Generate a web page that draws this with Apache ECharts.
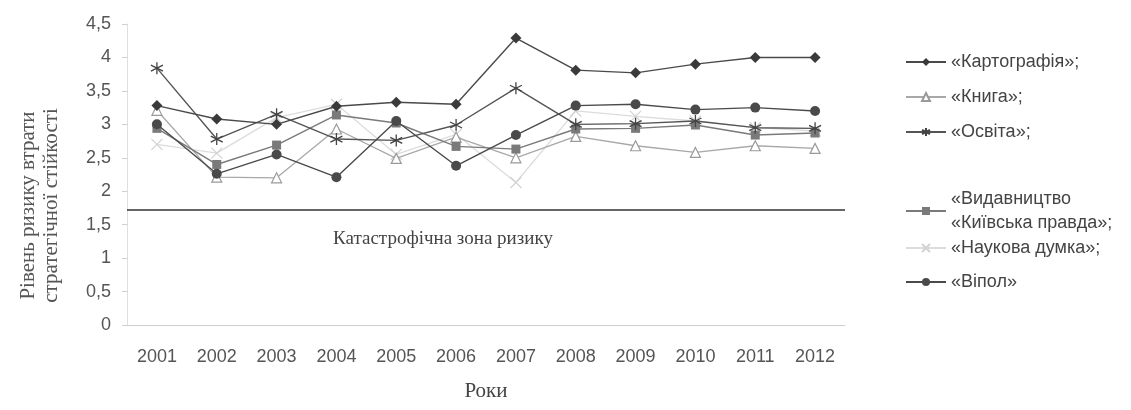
<!DOCTYPE html>
<html>
<head>
<meta charset="utf-8">
<script src="https://cdn.jsdelivr.net/npm/echarts@6/dist/echarts.min.js"></script>
<style>
html,body{margin:0;padding:0;background:#fff;}
#chart{width:1131px;height:410px;}
</style>
</head>
<body>
<div id="chart"></div>
<script>
const years = ['2001','2002','2003','2004','2005','2006','2007','2008','2009','2010','2011','2012'];
const yTicks = [0, 0.5, 1, 1.5, 2, 2.5, 3, 3.5, 4, 4.5];
const kartohrafiia = [3.28, 3.08, 3.00, 3.27, 3.33, 3.30, 4.29, 3.81, 3.77, 3.90, 4.00, 4.00];
const knyha        = [3.21, 2.21, 2.20, 2.93, 2.49, 2.81, 2.50, 2.82, 2.68, 2.58, 2.68, 2.64];
const osvita       = [3.84, 2.78, 3.15, 2.78, 2.76, 2.99, 3.54, 3.00, 3.01, 3.05, 2.95, 2.94];
const kyivPravda   = [2.94, 2.40, 2.69, 3.14, 3.02, 2.67, 2.63, 2.93, 2.94, 2.99, 2.84, 2.87];
const naukovaDumka = [2.70, 2.57, 3.10, 3.30, 2.55, 2.85, 2.13, 3.20, 3.12, 3.05, 2.95, 2.90];
const vipol        = [3.00, 2.26, 2.55, 2.21, 3.05, 2.38, 2.84, 3.28, 3.30, 3.22, 3.25, 3.20];
const catastropheLevel = 1.72;

const names = ['«Картографія»;', '«Книга»;', '«Освіта»;', '«Видавництво «Київська правда»;', '«Наукова думка»;', '«Віпол»'];

const asterisk = 'path://M0,-10L0,10M-8.66,-5L8.66,5M-8.66,5L8.66,-5';
const cross = 'path://M-7,-7L7,7M-7,7L7,-7';

function mk(name, data, opts) {
  return Object.assign({
    name: name,
    type: 'line',
    data: data,
    symbolSize: 9,
    lineStyle: { width: 1.4 },
    emphasis: { disabled: true },
    animation: false
  }, opts);
}

const series = [
  mk(names[0], kartohrafiia, {
    symbol: 'diamond', symbolSize: 11,
    itemStyle: { color: '#3a3a3a' }, lineStyle: { width: 1.4, color: '#4a4a4a' }, z: 6
  }),
  mk(names[1], knyha, {
    symbol: 'triangle', symbolSize: 10,
    itemStyle: { color: '#ffffff', borderColor: '#9a9a9a', borderWidth: 1.2 },
    lineStyle: { width: 1.3, color: '#a8a8a8' }, z: 3
  }),
  mk(names[2], osvita, {
    symbol: asterisk, symbolSize: 12,
    itemStyle: { color: 'rgba(0,0,0,0)', borderColor: '#444', borderWidth: 1.3 },
    lineStyle: { width: 1.4, color: '#555' }, z: 5
  }),
  mk(names[3], kyivPravda, {
    symbol: 'rect', symbolSize: 9,
    itemStyle: { color: '#7a7a7a' }, lineStyle: { width: 1.4, color: '#7a7a7a' }, z: 4
  }),
  mk(names[4], naukovaDumka, {
    symbol: cross, symbolSize: 11,
    itemStyle: { color: 'rgba(0,0,0,0)', borderColor: '#d2d2d2', borderWidth: 1.2 },
    lineStyle: { width: 1.3, color: '#dcdcdc' }, z: 2
  }),
  mk(names[5], vipol, {
    symbol: 'circle', symbolSize: 10,
    itemStyle: { color: '#4a4a4a' }, lineStyle: { width: 1.4, color: '#4a4a4a' }, z: 5,
    markLine: {
      silent: true,
      symbol: ['none', 'none'],
      lineStyle: { color: '#333', width: 1.6, type: 'solid' },
      label: {
        show: true,
        formatter: 'Катастрофічна зона ризику',
        position: 'insideMiddleBottom',
        distance: 20,
        padding: [0, 86, 0, 0],
        color: '#444',
        fontFamily: 'Liberation Serif',
        fontSize: 19
      },
      data: [{ yAxis: catastropheLevel }]
    }
  })
];

const legendText = { color: '#444', fontFamily: 'Liberation Sans', fontSize: 18, lineHeight: 24 };
const legendBase = {
  orient: 'vertical',
  left: 900,
  itemWidth: 40, itemHeight: 10,
  textStyle: legendText,
  selectedMode: false
};

const chart = echarts.init(document.getElementById('chart'), null, { renderer: 'canvas' });
chart.setOption({
  backgroundColor: '#ffffff',
  animation: false,
  grid: { left: 127, right: 286, top: 24, bottom: 85, containLabel: false },
  legend: [
    Object.assign({}, legendBase, { data: names.slice(0, 3), top: 45, itemGap: 11 }),
    Object.assign({}, legendBase, {
      data: [names[3]], top: 182,
      formatter: function () { return '«Видавництво\n«Київська правда»;'; }
    }),
    Object.assign({}, legendBase, { data: names.slice(4), top: 231, itemGap: 10 })
  ],
  xAxis: {
    type: 'category',
    data: years,
    boundaryGap: true,
    name: 'Роки',
    nameLocation: 'middle',
    nameGap: 56,
    nameTextStyle: { fontFamily: 'Liberation Serif', fontSize: 21, color: '#444' },
    axisLine: { show: true, lineStyle: { color: '#cfcfcf', width: 1 } },
    axisTick: { show: false },
    axisLabel: { color: '#555', fontFamily: 'Liberation Sans', fontSize: 18, margin: 23 },
    splitLine: { show: false }
  },
  yAxis: {
    type: 'value',
    min: 0, max: 4.5, interval: 0.5,
    name: 'Рівень ризику втрати\nстратегічної стійкості',
    nameLocation: 'middle',
    nameGap: 64,
    nameTextStyle: {
      fontFamily: 'Liberation Serif', fontSize: 21, color: '#555', lineHeight: 23,
      padding: [0, 62, 0, 0]
    },
    axisLine: { show: true, lineStyle: { color: '#dedede', width: 1 } },
    axisTick: { show: true, length: 5, lineStyle: { color: '#cfcfcf' } },
    axisLabel: {
      color: '#555', fontFamily: 'Liberation Sans', fontSize: 18, margin: 16,
      formatter: function (v) { return String(v).replace('.', ','); }
    },
    splitLine: { show: false }
  },
  series: series
});
</script>
</body>
</html>
